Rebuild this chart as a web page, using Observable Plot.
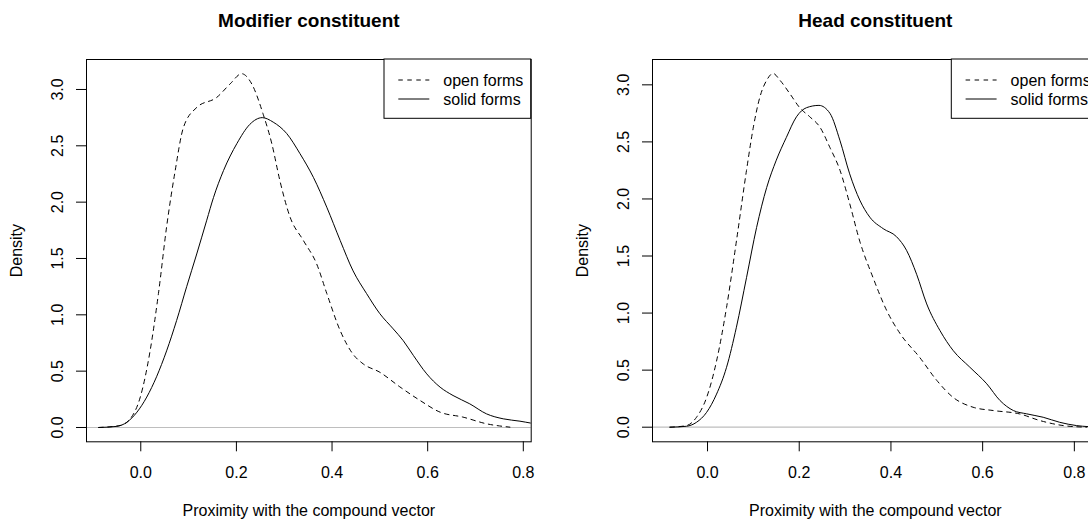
<!DOCTYPE html>
<html>
<head>
<meta charset="utf-8">
<script src="https://cdn.jsdelivr.net/npm/d3@7"></script>
<script src="https://cdn.jsdelivr.net/npm/@observablehq/plot@0.6"></script>
<style>
  html, body { margin: 0; padding: 0; background: #fff; }
  #wrap { position: relative; width: 1088px; height: 519px; overflow: hidden; background: #fff; }
  #wrap > svg, #wrap > div { position: absolute; top: 0; }
</style>
</head>
<body>
<div id="wrap"></div>
<script>
// ---------- data ----------
const titles = ["Modifier constituent", "Head constituent"];
const xLabel = "Proximity with the compound vector";
const yLabel = "Density";
const legendLabels = ["open forms", "solid forms"];
const xTicks = [0, 0.2, 0.4, 0.6, 0.8];
const yTicks = [0, 0.5, 1, 1.5, 2, 2.5, 3];

// Modifier constituent: open forms (dashed)
const modOpenX = [-0.088, -0.043, -0.022, -0.001, 0.0195, 0.037, 0.054, 0.072, 0.089, 0.117, 0.159, 0.187, 0.211, 0.232, 0.256, 0.274, 0.291, 0.312, 0.340, 0.368, 0.389, 0.417, 0.444, 0.465, 0.500, 0.542, 0.584, 0.626, 0.674, 0.723, 0.772];
const modOpenY = [0, 0.018, 0.077, 0.27, 0.68, 1.19, 1.78, 2.28, 2.66, 2.84, 2.93, 3.05, 3.14, 3.05, 2.78, 2.52, 2.19, 1.87, 1.66, 1.45, 1.19, 0.86, 0.65, 0.565, 0.49, 0.36, 0.24, 0.136, 0.092, 0.033, 0.003];
// Modifier constituent: solid forms
const modSolidX = [-0.088, -0.05, -0.029, -0.008, 0.0125, 0.033, 0.054, 0.075, 0.096, 0.117, 0.138, 0.152, 0.173, 0.201, 0.228, 0.254, 0.277, 0.305, 0.333, 0.361, 0.389, 0.417, 0.444, 0.472, 0.500, 0.528, 0.549, 0.570, 0.598, 0.626, 0.653, 0.688, 0.723, 0.758, 0.793, 0.817];
const modSolidY = [0, 0.01, 0.047, 0.136, 0.27, 0.45, 0.68, 0.95, 1.25, 1.54, 1.84, 2.04, 2.28, 2.52, 2.69, 2.75, 2.71, 2.61, 2.43, 2.22, 1.955, 1.66, 1.39, 1.19, 1.01, 0.875, 0.77, 0.64, 0.476, 0.358, 0.284, 0.21, 0.121, 0.077, 0.056, 0.038];

// Head constituent: open forms (dashed)
const headOpenX = [-0.082, -0.046, -0.024, -0.002, 0.0197, 0.0415, 0.063, 0.085, 0.1, 0.114, 0.129, 0.143, 0.158, 0.180, 0.201, 0.223, 0.245, 0.267, 0.289, 0.31, 0.332, 0.361, 0.391, 0.42, 0.463, 0.5, 0.536, 0.579, 0.623, 0.681, 0.725, 0.776, 0.827];
const headOpenY = [0, 0.014, 0.087, 0.26, 0.58, 1.05, 1.63, 2.25, 2.63, 2.89, 3.04, 3.10, 3.04, 2.92, 2.80, 2.72, 2.63, 2.45, 2.25, 1.96, 1.63, 1.31, 1.02, 0.82, 0.61, 0.41, 0.26, 0.175, 0.146, 0.116, 0.058, 0.014, 0];
// Head constituent: solid forms
const headSolidX = [-0.082, -0.046, -0.024, -0.002, 0.0197, 0.0415, 0.063, 0.085, 0.107, 0.129, 0.15, 0.172, 0.194, 0.216, 0.243, 0.267, 0.289, 0.31, 0.332, 0.354, 0.383, 0.412, 0.434, 0.456, 0.478, 0.507, 0.536, 0.572, 0.609, 0.638, 0.667, 0.696, 0.732, 0.768, 0.805, 0.83];
const headSolidY = [0, 0.008, 0.043, 0.13, 0.29, 0.525, 0.876, 1.31, 1.75, 2.10, 2.34, 2.54, 2.72, 2.80, 2.82, 2.75, 2.51, 2.22, 1.99, 1.84, 1.74, 1.67, 1.55, 1.34, 1.08, 0.846, 0.67, 0.526, 0.38, 0.233, 0.146, 0.117, 0.087, 0.043, 0.014, 0.005];

// ---------- drawing ----------
const fontFamily = "'Liberation Sans', Arial, Helvetica, sans-serif";
const dash = "4.5,4.5";
const toRows = (xs, ys) => xs.map((x, i) => ({x, y: ys[i]}));
const fmt = d3.format(".1f");

function panel({title, open, solid, xDomain, yDomain, width}) {
  return Plot.plot({
    width, height: 519,
    marginLeft: 86, marginRight: 13.3, marginTop: 59, marginBottom: 77.7,
    style: {fontFamily, fontSize: "16px", background: "transparent", color: "black", overflow: "visible"},
    x: {domain: xDomain},
    y: {domain: yDomain},
    marks: [
      Plot.ruleY([0], {stroke: "#bebebe", strokeWidth: 1.2}),
      Plot.line(open, {x: "x", y: "y", stroke: "black", strokeWidth: 1, strokeDasharray: dash, curve: "monotone-x", clip: true}),
      Plot.line(solid, {x: "x", y: "y", stroke: "black", strokeWidth: 1, curve: "monotone-x", clip: true}),
      Plot.frame({stroke: "black", strokeWidth: 1}),
      Plot.axisX(xTicks, {tickSize: 10, tickPadding: 14.6, tickFormat: fmt, fontSize: 16, label: null, stroke: "black"}),
      Plot.axisY(yTicks, {tickSize: 10, tickFormat: () => "", label: null, stroke: "black"}),
      Plot.text(yTicks, {y: d => d, text: d => fmt(d), frameAnchor: "left", dx: -29, rotate: -90, fontSize: 16, textAnchor: "middle", lineAnchor: "middle", fill: "black"}),
      Plot.text([yLabel], {text: d => d, frameAnchor: "left", dx: -70, rotate: -90, fontSize: 16, textAnchor: "middle", lineAnchor: "middle", fill: "black"}),
      Plot.text([xLabel], {text: d => d, frameAnchor: "bottom", dy: 69, fontSize: 16, lineAnchor: "middle", fill: "black"}),
      Plot.text([title], {text: d => d, frameAnchor: "top", dy: -39, fontSize: 19, fontWeight: "bold", lineAnchor: "middle", fill: "black"})
    ]
  });
}

const wrap = document.getElementById("wrap");

const left = panel({
  title: titles[0],
  open: toRows(modOpenX, modOpenY),
  solid: toRows(modSolidX, modSolidY),
  xDomain: [-0.1135, 0.8165],
  yDomain: [-0.127, 3.266],
  width: 544
});
left.style.left = "0px";
wrap.appendChild(left);

const right = panel({
  title: titles[1],
  open: toRows(headOpenX, headOpenY),
  solid: toRows(headSolidX, headSolidY),
  xDomain: [-0.12, 0.852],
  yDomain: [-0.128, 3.222],
  width: 545
});
right.style.left = "566.3px";
wrap.appendChild(right);

// legends (boxes sharing the frame's top-right corner)
const legendBoxes = [
  {x0: 384, x1: 530.7},
  {x0: 951.3, x1: 1098}
];
const legendDash = [dash, null];
const ov = d3.create("svg")
  .attr("width", 1088).attr("height", 519)
  .style("position", "absolute").style("left", "0px").style("top", "0px")
  .style("font-family", fontFamily);
legendBoxes.forEach(b => {
  const g = ov.append("g");
  g.append("rect").attr("x", b.x0).attr("y", 59).attr("width", b.x1 - b.x0).attr("height", 59.3)
    .attr("fill", "white").attr("stroke", "black").attr("stroke-width", 1);
  legendLabels.forEach((lab, i) => {
    const y = 80 + i * 19;
    g.append("line").attr("x1", b.x0 + 14.3).attr("x2", b.x0 + 45.3).attr("y1", y).attr("y2", y)
      .attr("stroke", "black").attr("stroke-width", 1)
      .attr("stroke-dasharray", legendDash[i]);
    g.append("text").attr("x", b.x0 + 59.3).attr("y", y).attr("dy", "0.35em")
      .attr("font-size", 16).attr("fill", "black").text(lab);
  });
});
wrap.appendChild(ov.node());
</script>
</body>
</html>
